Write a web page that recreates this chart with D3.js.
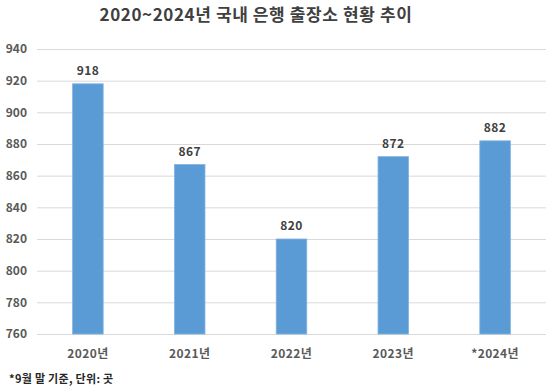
<!DOCTYPE html>
<html>
<head>
<meta charset="utf-8">
<script src="https://cdn.jsdelivr.net/npm/d3@7"></script>
<style>
  body { margin: 0; background: #fff; }
  text { font-family: "Noto Sans CJK KR", "Noto Sans", sans-serif; }
</style>
</head>
<body>
<svg id="chart" width="550" height="387"></svg>
<script>
const years = ["2020년", "2021년", "2022년", "2023년", "*2024년"];
const branches = [918, 867, 820, 872, 882];
const yTicks = [760, 780, 800, 820, 840, 860, 880, 900, 920, 940];

const svg = d3.select('#chart'),
    width = +svg.attr('width'),
    height = +svg.attr('height');

const margin = {top: 49, right: 4, bottom: 53, left: 37};

const x = d3.scaleBand()
    .domain(years)
    .range([margin.left, width - margin.right])
    .paddingInner(0.7)
    .paddingOuter(0.35);

const y = d3.scaleLinear()
    .domain([760, 940])
    .range([height - margin.bottom, margin.top]);

// title
svg.append('text')
    .attr('x', 256)
    .attr('y', 21)
    .attr('text-anchor', 'middle')
    .attr('font-size', '17px')
    .attr('font-weight', 'bold')
    .attr('letter-spacing', '0.6px')
    .attr('fill', '#404040')
    .text('2020~2024년 국내 은행 출장소 현황 추이');

// gridlines + y labels
const yAxis = svg.append('g')
    .attr('transform', 'translate(' + margin.left + ',0)')
    .call(d3.axisLeft(y).tickValues(yTicks).tickSize(-(width - margin.left - margin.right)).tickPadding(10));
yAxis.select('.domain').remove();
yAxis.selectAll('line').attr('stroke', '#d9d9d9');
yAxis.selectAll('text')
    .attr('font-size', '12px')
    .attr('font-weight', 'bold')
    .attr('fill', '#595959')
    .style('font-family', '"Noto Sans CJK KR", sans-serif');

// bars
svg.append('g')
    .selectAll('rect')
    .data(branches)
    .enter()
    .append('rect')
    .attr('x', (d, i) => x(years[i]))
    .attr('y', d => y(d))
    .attr('width', x.bandwidth())
    .attr('height', d => y(760) - y(d))
    .attr('fill', '#5b9bd5')
    .attr('stroke', '#7fb2e0')
    .attr('stroke-width', 0.8);

// value labels
svg.append('g')
    .selectAll('text')
    .data(branches)
    .enter()
    .append('text')
    .attr('x', (d, i) => x(years[i]) + x.bandwidth() / 2)
    .attr('y', d => y(d) - 9)
    .attr('text-anchor', 'middle')
    .attr('font-size', '12px')
    .attr('font-weight', 'bold')
    .attr('letter-spacing', '0.4px')
    .attr('fill', '#404040')
    .text(d => d);

// x labels
const xAxis = svg.append('g')
    .attr('transform', 'translate(0,' + (height - margin.bottom) + ')')
    .call(d3.axisBottom(x).tickSize(0).tickPadding(15));
xAxis.select('.domain').remove();
xAxis.selectAll('text')
    .attr('font-size', '12px')
    .attr('font-weight', 'bold')
    .attr('letter-spacing', '0.4px')
    .attr('fill', '#595959')
    .style('font-family', '"Noto Sans CJK KR", sans-serif');

// footnote
svg.append('text')
    .attr('x', 9)
    .attr('y', 383)
    .attr('font-size', '11px')
    .attr('font-weight', 'bold')
    .attr('letter-spacing', '0.3px')
    .attr('fill', '#262626')
    .text('*9월 말 기준, 단위: 곳');
</script>
</body>
</html>
